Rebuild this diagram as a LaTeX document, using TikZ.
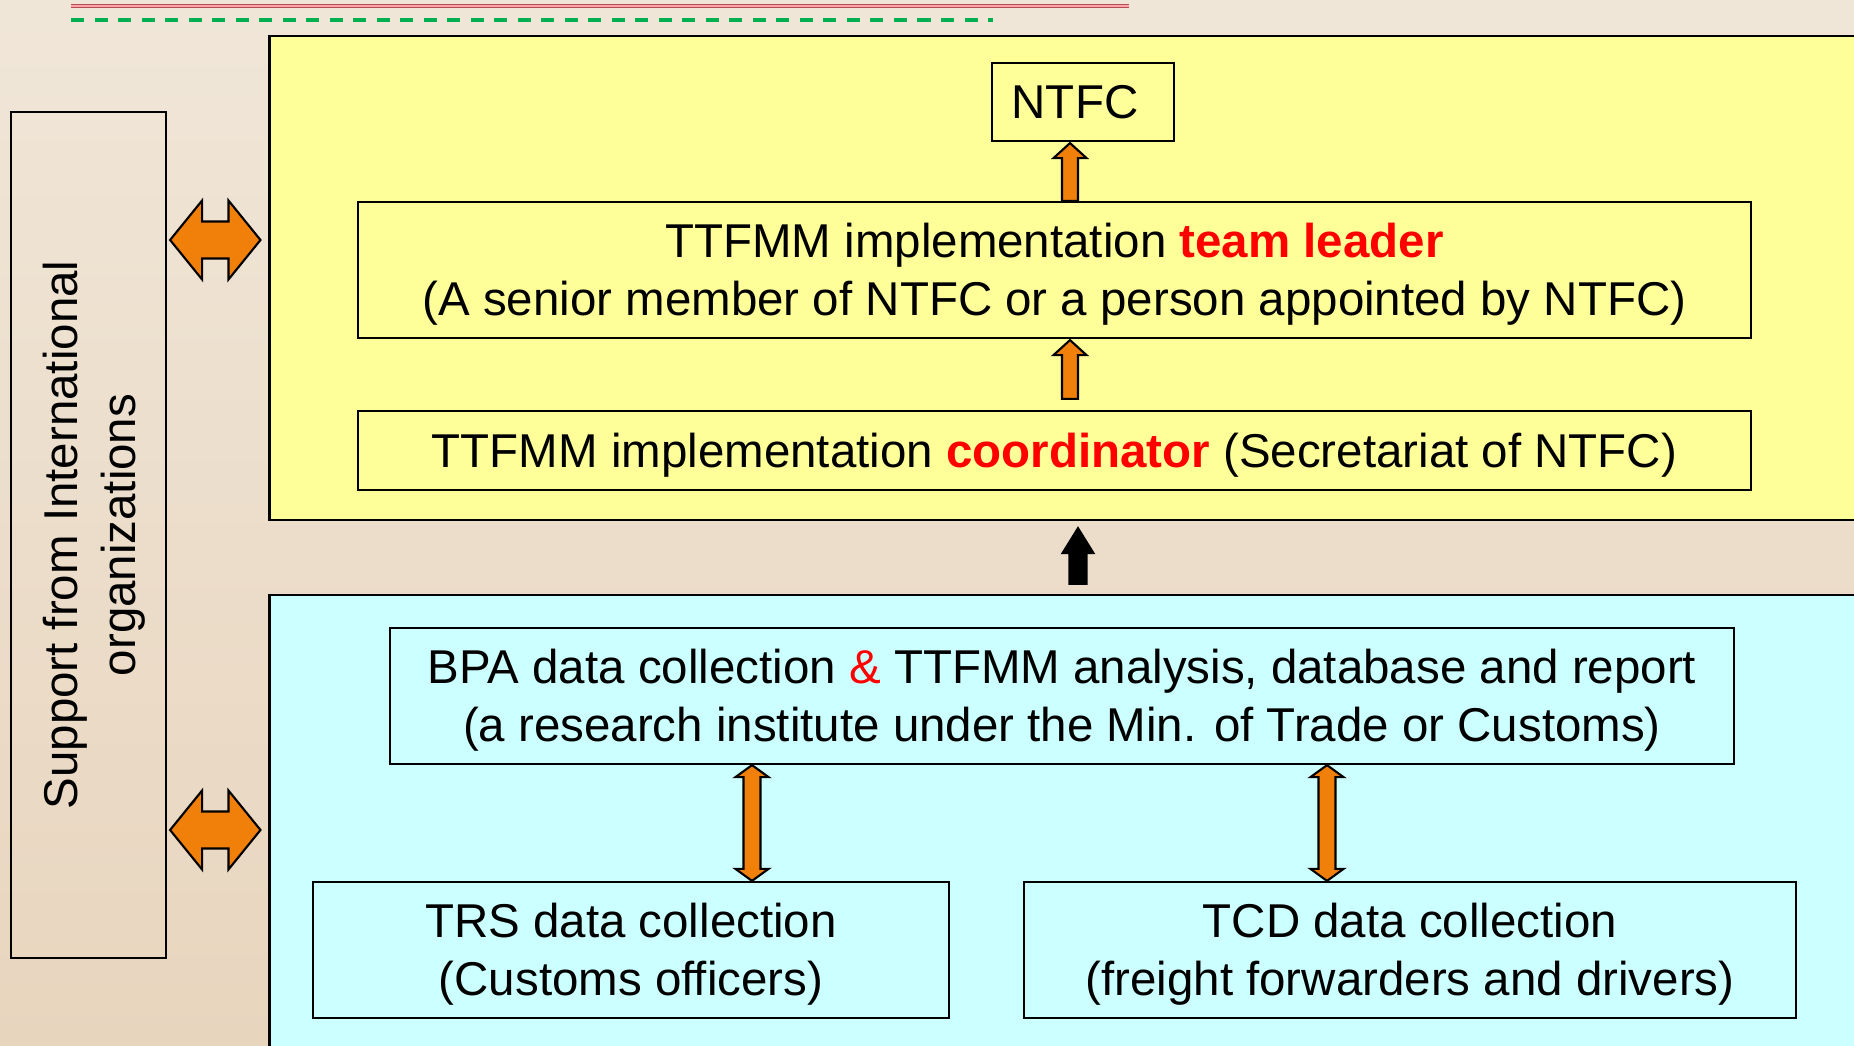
\documentclass[tikz,border=0pt]{standalone}
\usepackage{fontspec}
\setmainfont{Liberation Sans}
\usetikzlibrary{calc}

\definecolor{bgtop}{RGB}{240,230,216}
\definecolor{bgbottom}{RGB}{232,213,190}
\definecolor{panelyellow}{RGB}{255,255,153}
\definecolor{panelcyan}{RGB}{204,255,255}
\definecolor{arroworange}{RGB}{240,128,10}
\definecolor{linered}{RGB}{185,75,85}
\definecolor{linegreen}{RGB}{0,176,80}

\tikzset{
  panel/.style={draw=black, line width=0.6pt, minimum width=16.1cm, inner sep=0pt},
  entity/.style={draw=black, line width=0.6pt, align=center, inner sep=0pt,
    font=\fontsize{13.5pt}{16.5pt}\selectfont},
  orangearrow/.style={fill=arroworange, draw=black, line width=0.6pt, line join=miter},
  blackarrow/.style={fill=black, draw=black, line width=0.6pt, line join=miter},
}

\newcommand{\redbold}[1]{\textcolor{red}{\bfseries #1}}
\newcommand{\topstrut}{\rule{0pt}{12.4pt}}

% up arrow: style, base, tip, shaft half, head half, head length
\newcommand{\upblock}[6]{%
  \draw[#1]
  ($(#2)+(-#4,0)$) -- ($(#3)+(-#4,#6)$) -- ($(#3)+(-#5,#6)$) -- (#3)
  -- ($(#3)+(#5,#6)$) -- ($(#3)+(#4,#6)$) -- ($(#2)+(#4,0)$) -- cycle;}

% vertical double arrow: style, top tip, bottom tip, shaft half, head half, head length
\newcommand{\vdoubleblock}[6]{%
  \draw[#1]
  (#2) -- ($(#2)+(#5,#6)$) -- ($(#2)+(#4,#6)$) -- ($(#3)+(#4,-#6)$)
  -- ($(#3)+(#5,-#6)$) -- (#3) -- ($(#3)+(-#5,-#6)$) -- ($(#3)+(-#4,-#6)$)
  -- ($(#2)+(-#4,#6)$) -- ($(#2)+(-#5,#6)$) -- cycle;}

% horizontal double arrow: style, left tip, right tip, shaft half, head half, head length
\newcommand{\hdoubleblock}[6]{%
  \draw[#1]
  (#2) -- ($(#2)+(#6,-#5)$) -- ($(#2)+(#6,-#4)$) -- ($(#3)+(-#6,-#4)$)
  -- ($(#3)+(-#6,-#5)$) -- (#3) -- ($(#3)+(-#6,#5)$) -- ($(#3)+(-#6,#4)$)
  -- ($(#2)+(#6,#4)$) -- ($(#2)+(#6,#5)$) -- cycle;}

\begin{document}
\begin{tikzpicture}[x=0.01cm, y=-0.01cm]

\useasboundingbox (0,0) rectangle (1854,1046);

% Fond
\shade[top color=bgtop, bottom color=bgbottom]
(0,0)
rectangle
(1854,1046);

% Lignes du haut
\draw[linered, line width=0.35pt, double=red!35, double distance=0.5pt]
(71,6)
--
(1129,6);

\draw[linegreen, line width=0.9pt, dash pattern=on 0.13cm off 0.105cm]
(71,20)
--
(993,20);

% Panneaux
\node[panel, fill=panelyellow, minimum height=4.84cm]
(upper) at (1075,278) {};

\node[panel, fill=panelcyan, minimum height=4.75cm]
(lower) at (1075,832.5) {};

% Soutien
\node[entity, minimum width=1.55cm, minimum height=8.46cm]
(support) at (88.5,535) {};

\node[rotate=90, align=center, font=\fontsize{13.5pt}{16.5pt}\selectfont]
(supporttext) at ($(support.center)+(6,0)$)
{Support from International\\organizations};

% Boites du haut
\node[entity, minimum width=1.82cm, minimum height=0.78cm]
(ntfc) at (1083,102) {\hspace*{-0.16cm}NTFC};

\node[entity, minimum width=13.93cm, minimum height=1.36cm]
(leader) at (1054.5,270)
{\topstrut TTFMM implementation \redbold{team leader}\\
(A senior member of NTFC or a person appointed by NTFC)};

\node[entity, minimum width=13.93cm, minimum height=0.79cm]
(coord) at (1054.5,450.5)
{\topstrut TTFMM implementation \redbold{coordinator} (Secretariat of NTFC)};

% Boites du bas
\node[entity, minimum width=13.44cm, minimum height=1.36cm]
(bpa) at (1062,696)
{\topstrut BPA data collection {\color{red}\&} TTFMM analysis, database and report\\
(a research institute under the Min. of Trade or Customs)};

\node[entity, minimum width=6.36cm, minimum height=1.36cm]
(trs) at (631,950)
{\topstrut TRS data collection\\(Customs officers)};

\node[entity, minimum width=7.72cm, minimum height=1.36cm]
(tcd) at (1410,950)
{\topstrut TCD data collection\\(freight forwarders and drivers)};

% Fleches vers le haut
\coordinate (col) at (1070,0);
\coordinate (colb) at (1078,0);

\coordinate (a1) at (col |- leader.north);
\coordinate (t1) at ($(col |- ntfc.south)+(0,1)$);
\upblock{orangearrow}{a1}{t1}{8}{16.5}{15}

\coordinate (a2) at ($(col |- coord.north)+(0,-11)$);
\coordinate (t2) at ($(col |- leader.south)+(0,1)$);
\upblock{orangearrow}{a2}{t2}{8}{16.5}{15}

\coordinate (a3) at ($(colb |- lower.north)+(0,-10)$);
\coordinate (t3) at ($(colb |- upper.south)+(0,7)$);
\upblock{blackarrow}{a3}{t3}{8.5}{15.5}{25}

% Fleches doubles verticales
\coordinate (trscol) at (752,0);
\coordinate (tcdcol) at (1327,0);

\coordinate (b1) at (trscol |- bpa.south);
\coordinate (c1) at (trscol |- trs.north);
\vdoubleblock{orangearrow}{b1}{c1}{8.5}{16.5}{12}

\coordinate (b2) at (tcdcol |- bpa.south);
\coordinate (c2) at (tcdcol |- tcd.north);
\vdoubleblock{orangearrow}{b2}{c2}{8.5}{16.5}{12}

% Fleches doubles horizontales
\coordinate (rowtop) at (0,240);
\coordinate (rowbottom) at (0,830);

\coordinate (s1) at ($(support.east |- rowtop)+(3,0)$);
\coordinate (u1) at ($(upper.west |- rowtop)+(-8,0)$);
\hdoubleblock{orangearrow}{s1}{u1}{18.5}{39.5}{32}

\coordinate (s2) at ($(support.east |- rowbottom)+(3,0)$);
\coordinate (u2) at ($(lower.west |- rowbottom)+(-8,0)$);
\hdoubleblock{orangearrow}{s2}{u2}{18.5}{39.5}{32}

\end{tikzpicture}
\end{document}
